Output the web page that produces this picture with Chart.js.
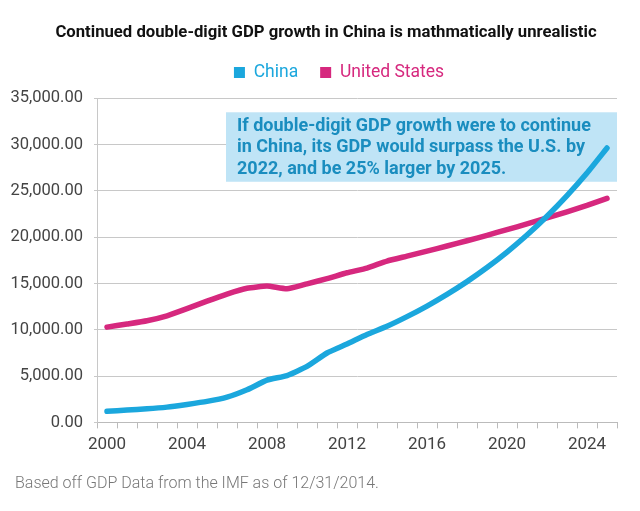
<!DOCTYPE html>
<html>
<head>
<meta charset="utf-8">
<script src="https://cdn.jsdelivr.net/npm/chart.js@4.4.1/dist/chart.umd.min.js"></script>
<style>
html,body{margin:0;padding:0;background:#fff;}
#wrap{width:640px;height:511px;position:relative;}
</style>
</head>
<body>
<div id="wrap"><canvas id="c" width="640" height="511"></canvas></div>
<script>
const years = ['2000','2001','2002','2003','2004','2005','2006','2007','2008','2009','2010','2011','2012','2013','2014','2015','2016','2017','2018','2019','2020','2021','2022','2023','2024','2025'];
const china = [1205,1333,1461,1649,1942,2268,2730,3523,4558,5059,6040,7492,8462,9491,10380,11420,12560,13820,15200,16720,18390,20230,22250,24480,26920,29620];
const unitedStates = [10285,10622,10978,11511,12275,13094,13856,14478,14719,14419,14964,15518,16155,16663,17419,17950,18490,19040,19610,20200,20810,21430,22070,22740,23420,24180];
const yTicks = [0,5000,10000,15000,20000,25000,30000,35000];
const titleText = 'Continued double-digit GDP growth in China is mathmatically unrealistic';
const footText = 'Based off GDP Data from the IMF as of 12/31/2014.';
const noteLines = ['If double-digit GDP growth were to continue','in China, its GDP would surpass the U.S. by','2022, and be 25% larger by 2025.'];

const BLUE = '#1ba7dd';
const PINK = '#d6287e';
const FONT = 'Roboto, "DejaVu Sans", sans-serif';

const notePlugin = {
  id: 'note',
  beforeDatasetsDraw(chart) {
    const {ctx, chartArea, scales} = chart;
    const x = scales.x, y = scales.y;
    const left = x.getPixelForValue(6) - 1;
    const right = chartArea.right;
    const top = y.getPixelForValue(33480);
    const bottom = y.getPixelForValue(25980);
    ctx.save();
    ctx.fillStyle = '#bfe4f6';
    ctx.fillRect(left, top, right - left, bottom - top);
    ctx.fillStyle = '#1a8dbf';
    ctx.font = 'bold 18px ' + FONT;
    ctx.textBaseline = 'middle';
    ctx.textAlign = 'left';
    const lh = 21.5;
    noteLines.forEach((t, i) => ctx.fillText(t, left + 11, top + 14 + i * lh));
    ctx.restore();
  }
};

const layoutPlugin = {
  id: 'layoutTweak',
  beforeLayout(chart) {
    const lg = chart.legend;
    if (lg && !lg._wrapped) {
      const f = lg.fit.bind(lg);
      lg.fit = function () { f(); this.height += 7; };
      lg._wrapped = true;
    }
  },
  afterLayout(chart) {
    if (chart.titleBlock) { chart.titleBlock.left += 17.5; chart.titleBlock.right += 17.5; }
    if (chart.legend) { chart.legend.left += 30.5; chart.legend.right += 30.5; }
    chart.boxes.forEach(b => {
      if (b.options && b.options.text === footText) { b.left += 15; b.right += 15; }
    });
  }
};

new Chart(document.getElementById('c'), {
  type: 'line',
  data: {
    labels: years,
    datasets: [
      {label: 'China', data: china, borderColor: BLUE, backgroundColor: BLUE, borderWidth: 5.5, pointRadius: 0, tension: 0.15, borderCapStyle: 'round'},
      {label: 'United States', data: unitedStates, borderColor: PINK, backgroundColor: PINK, borderWidth: 5.5, pointRadius: 0, tension: 0.15, borderCapStyle: 'round'}
    ]
  },
  options: {
    responsive: false,
    animation: false,
    layout: {padding: {left: 0, right: 23, top: 0, bottom: 0}},
    plugins: {
      title: {display: true, text: titleText, color: '#111', font: {family: FONT, size: 16.7, weight: 'bold', lineHeight: 1}, padding: {top: 24, bottom: 1}},
      legend: {
        display: true,
        labels: {
          boxWidth: 11, boxHeight: 11, padding: 22,
          font: {family: FONT, size: 17.5},
          generateLabels(chart) {
            return chart.data.datasets.map((d, i) => ({
              text: d.label, fillStyle: d.borderColor, strokeStyle: d.borderColor, lineWidth: 0,
              fontColor: d.borderColor, datasetIndex: i, hidden: false
            }));
          }
        }
      },
      subtitle: {display: true, position: 'bottom', align: 'start', text: footText, color: '#777', font: {family: FONT, size: 16, weight: 300}, padding: {top: 14, bottom: 17}},
      tooltip: {enabled: false}
    },
    scales: {
      x: {
        type: 'category',
        offset: true,
        grid: {display: true, drawOnChartArea: false, offset: true, color: '#bbb', tickLength: 6},
        border: {color: '#bbb'},
        ticks: {
          autoSkip: false, maxRotation: 0, color: '#444', padding: 6,
          font: {family: FONT, size: 17},
          callback(v, i) { return i % 4 === 0 ? years[i] : ''; }
        }
      },
      y: {
        min: 0, max: 35000,
        afterBuildTicks(s) { s.ticks = yTicks.map(v => ({value: v})); },
        afterFit(s) { s.width = 97; },
        grid: {color: '#c8c8c8', tickLength: 3},
        border: {color: '#c8c8c8'},
        ticks: {
          color: '#444', padding: 11,
          font: {family: FONT, size: 16.5},
          callback(v) { return Number(v).toLocaleString('en-US', {minimumFractionDigits: 2, maximumFractionDigits: 2}); }
        }
      }
    }
  },
  plugins: [notePlugin, layoutPlugin]
});
</script>
</body>
</html>
